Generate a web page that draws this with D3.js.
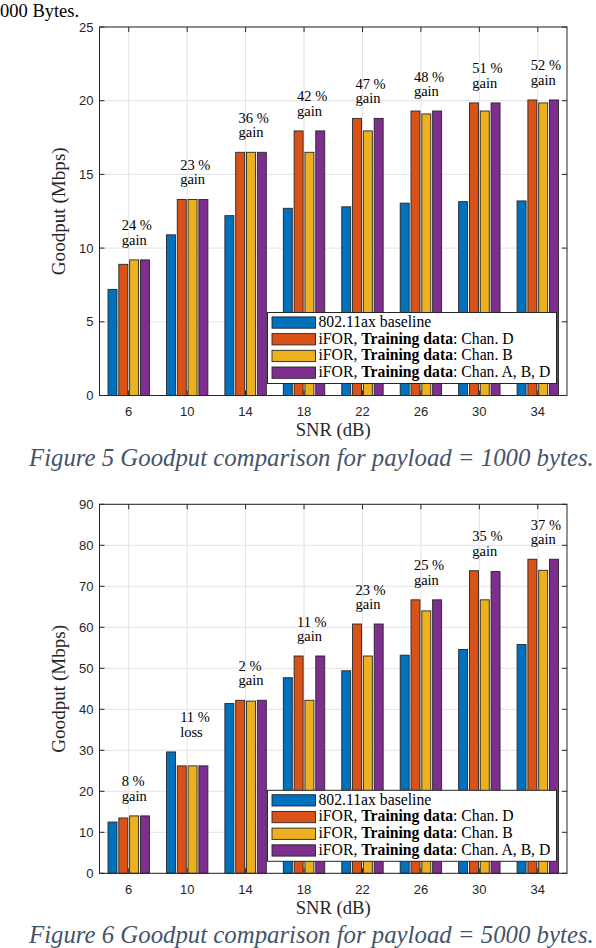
<!DOCTYPE html>
<html>
<head>
<meta charset="utf-8">
<script src="https://cdn.jsdelivr.net/npm/d3@7"></script>
<style>
  html, body { margin: 0; padding: 0; background: #fff; }
  svg { display: block; }
</style>
</head>
<body>
<svg id="fig" width="596" height="948"></svg>
<script>
// ---------------- DATA ----------------
const snr = [6, 10, 14, 18, 22, 26, 30, 34];
const seriesNames = ["802.11ax baseline", "Chan. D", "Chan. B", "Chan. A, B, D"];
const colors = ["#0072BD", "#D95319", "#EDB120", "#7E2F8E"];

// Payload = 1000 bytes
const p1000_baseline = [7.2, 10.9, 12.2, 12.7, 12.8, 13.05, 13.15, 13.2];
const p1000_chanD    = [8.9, 13.3, 16.5, 17.95, 18.8, 19.3, 19.85, 20.05];
const p1000_chanB    = [9.2, 13.3, 16.5, 16.5, 17.95, 19.1, 19.3, 19.85];
const p1000_chanABD  = [9.2, 13.3, 16.5, 17.95, 18.8, 19.3, 19.85, 20.05];
const p1000_pct      = ["24 %", "23 %", "36 %", "42 %", "47 %", "48 %", "51 %", "52 %"];
const p1000_word     = ["gain", "gain", "gain", "gain", "gain", "gain", "gain", "gain"];
const p1000_yTicks   = [0, 5, 10, 15, 20, 25];

// Payload = 5000 bytes
const p5000_baseline = [12.5, 29.6, 41.4, 47.7, 49.4, 53.2, 54.6, 55.8];
const p5000_chanD    = [13.5, 26.2, 42.2, 53.0, 60.8, 66.7, 73.8, 76.6];
const p5000_chanB    = [14.0, 26.2, 42.0, 42.2, 53.0, 64.0, 66.7, 73.9];
const p5000_chanABD  = [14.0, 26.2, 42.2, 53.0, 60.8, 66.7, 73.6, 76.6];
const p5000_pct      = ["8 %", "11 %", "2 %", "11 %", "23 %", "25 %", "35 %", "37 %"];
const p5000_word     = ["gain", "loss", "gain", "gain", "gain", "gain", "gain", "gain"];
const p5000_yTicks   = [0, 10, 20, 30, 40, 50, 60, 70, 80, 90];

const caption1 = "Figure 5 Goodput comparison for payload = 1000 bytes.";
const caption2 = "Figure 6 Goodput comparison for payload = 5000 bytes.";
const topFragment = "000 Bytes.";

// ---------------- DRAW ----------------
const svg = d3.select("#fig");
svg.append("rect").attr("width", 596).attr("height", 948).attr("fill", "#fff");

const SERIF = "'Liberation Serif', 'Times New Roman', Times, serif";
const SANS = "'Liberation Sans', Arial, Helvetica, sans-serif";

function fitText(sel, target) {
  const base = 20;
  sel.attr("font-size", base);
  const len = sel.node().getComputedTextLength();
  const fs = base * target / len;
  sel.attr("font-size", fs);
  return fs;
}

// fragment of preceding text at the very top
svg.append("text")
  .attr("x", 0).attr("y", 17)
  .attr("font-family", SERIF)
  .attr("font-size", 18.5)
  .attr("fill", "#000")
  .text(topFragment);

function drawChart(cfg) {
  const L = 99.5, R = 567;
  const x = d3.scaleBand().domain(snr).range([L, R]).padding(0);
  const y = d3.scaleLinear().domain([0, cfg.yTicks[cfg.yTicks.length - 1]]).range([cfg.bottom, cfg.top]);
  const groupW = x.bandwidth() * 0.74;
  const sub = d3.scaleBand().domain(d3.range(4)).range([-groupW / 2, groupW / 2])
    .paddingInner(0.17).paddingOuter(0.085);

  const g = svg.append("g");

  // grid
  g.append("g").selectAll("line").data(cfg.yTicks).join("line")
    .attr("x1", L).attr("x2", R)
    .attr("y1", d => y(d)).attr("y2", d => y(d))
    .attr("stroke", "#e3e3e3").attr("stroke-width", 1);
  g.append("g").selectAll("line").data(snr).join("line")
    .attr("x1", d => x(d) + x.bandwidth() / 2).attr("x2", d => x(d) + x.bandwidth() / 2)
    .attr("y1", cfg.top).attr("y2", cfg.bottom)
    .attr("stroke", "#e3e3e3").attr("stroke-width", 1);

  // bars
  const rows = snr.map((s, i) => ({ s, vals: cfg.series.map(a => a[i]) }));
  const grp = g.append("g").selectAll("g").data(rows).join("g")
    .attr("transform", d => `translate(${x(d.s) + x.bandwidth() / 2},0)`);
  grp.selectAll("rect").data(d => d.vals.map((v, k) => ({ v, k }))).join("rect")
    .attr("x", d => sub(d.k))
    .attr("width", sub.bandwidth())
    .attr("y", d => y(d.v))
    .attr("height", d => y(0) - y(d.v))
    .attr("fill", d => colors[d.k])
    .attr("stroke", "#262626")
    .attr("stroke-width", 0.9);

  // annotations
  rows.forEach((r, i) => {
    const mx = d3.max(r.vals);
    const tx = x(r.s) + x.bandwidth() / 2 - 7;
    const ty = y(mx) - 29.5;
    g.append("text").attr("x", tx).attr("y", ty)
      .attr("font-family", SERIF).attr("font-size", 14.5).attr("fill", "#000")
      .text(cfg.pct[i]);
    g.append("text").attr("x", tx).attr("y", ty + 14.5)
      .attr("font-family", SERIF).attr("font-size", 14.5).attr("fill", "#000")
      .text(cfg.word[i]);
  });

  // axes frame
  const axisColor = "#262626";
  g.append("rect").attr("x", L).attr("y", cfg.top).attr("width", R - L).attr("height", cfg.bottom - cfg.top)
    .attr("fill", "none").attr("stroke", axisColor).attr("stroke-width", 1);

  // ticks (inward, all 4 sides)
  const tl = 5;
  const xt = g.append("g");
  snr.forEach(s => {
    const cx = x(s) + x.bandwidth() / 2;
    xt.append("line").attr("x1", cx).attr("x2", cx).attr("y1", cfg.bottom).attr("y2", cfg.bottom - tl).attr("stroke", axisColor);
    xt.append("line").attr("x1", cx).attr("x2", cx).attr("y1", cfg.top).attr("y2", cfg.top + tl).attr("stroke", axisColor);
  });
  cfg.yTicks.forEach(t => {
    xt.append("line").attr("x1", L).attr("x2", L + tl).attr("y1", y(t)).attr("y2", y(t)).attr("stroke", axisColor);
    xt.append("line").attr("x1", R).attr("x2", R - tl).attr("y1", y(t)).attr("y2", y(t)).attr("stroke", axisColor);
  });

  // tick labels
  g.append("g").selectAll("text").data(snr).join("text")
    .attr("x", d => x(d) + x.bandwidth() / 2).attr("y", cfg.bottom + 20.5)
    .attr("text-anchor", "middle").attr("font-family", SANS).attr("font-size", 13)
    .attr("fill", axisColor).text(d => d);
  g.append("g").selectAll("text").data(cfg.yTicks).join("text")
    .attr("x", L - 6).attr("y", d => y(d) + 4.6)
    .attr("text-anchor", "end").attr("font-family", SANS).attr("font-size", 13)
    .attr("fill", axisColor).text(d => d);

  // axis labels
  const xl = g.append("text").attr("x", (L + R) / 2).attr("y", cfg.bottom + 40.5)
    .attr("text-anchor", "middle").attr("font-family", SERIF).attr("fill", axisColor)
    .text("SNR (dB)");
  fitText(xl, 75);
  const yl = g.append("text")
    .attr("transform", `translate(65,${(cfg.top + cfg.bottom) / 2}) rotate(-90)`)
    .attr("text-anchor", "middle").attr("font-family", SERIF).attr("fill", axisColor)
    .text("Goodput (Mbps)");
  fitText(yl, 128);

  // legend
  const lw = 289, lh = 71;
  const lx = R - 10.5 - lw, ly = cfg.bottom - 12 - lh;
  const lg = g.append("g");
  lg.append("rect").attr("x", lx).attr("y", ly).attr("width", lw).attr("height", lh)
    .attr("fill", "#fff").attr("stroke", axisColor).attr("stroke-width", 1);
  const texts = [];
  seriesNames.forEach((name, k) => {
    const cy = ly + 10 + k * 16.7;
    lg.append("rect").attr("x", lx + 4.5).attr("y", cy - 5.6).attr("width", 43.5).attr("height", 11.3)
      .attr("fill", colors[k]).attr("stroke", "#262626").attr("stroke-width", 0.9);
    const t = lg.append("text").attr("x", lx + 51).attr("y", cy + 4.3)
      .attr("font-family", SERIF).attr("fill", "#000");
    if (k === 0) {
      t.text(name);
    } else {
      t.append("tspan").text("iFOR, ");
      t.append("tspan").attr("font-weight", "bold").text("Training data");
      t.append("tspan").text(": " + name);
    }
    texts.push(t);
  });
  const fs = fitText(texts[3], 232);
  texts.forEach(t => t.attr("font-size", fs));

  // caption
  const cap = svg.append("text").attr("x", 29).attr("y", cfg.captionY)
    .attr("font-family", SERIF).attr("font-style", "italic").attr("fill", "#44546A")
    .text(cfg.caption);
  fitText(cap, 565);
}

drawChart({
  top: 27, bottom: 395.5,
  yTicks: p1000_yTicks,
  series: [p1000_baseline, p1000_chanD, p1000_chanB, p1000_chanABD],
  pct: p1000_pct, word: p1000_word,
  caption: caption1, captionY: 466
});

drawChart({
  top: 504.3, bottom: 873.3,
  yTicks: p5000_yTicks,
  series: [p5000_baseline, p5000_chanD, p5000_chanB, p5000_chanABD],
  pct: p5000_pct, word: p5000_word,
  caption: caption2, captionY: 943
});
</script>
</body>
</html>
